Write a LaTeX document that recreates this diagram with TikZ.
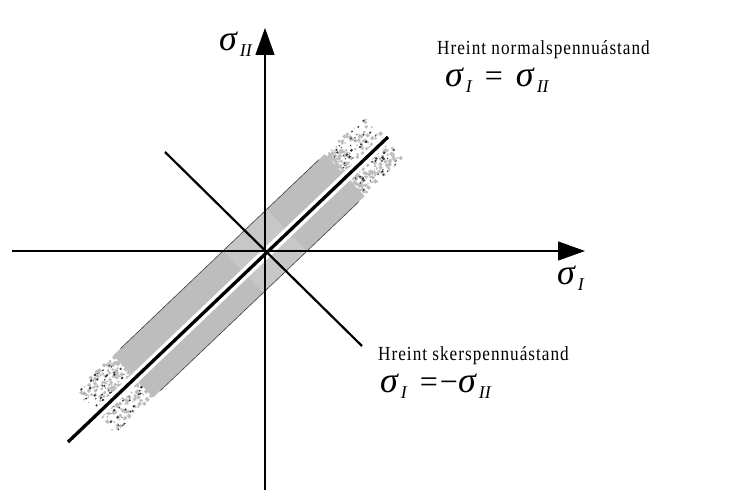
\documentclass[tikz,border=0pt]{standalone}
\usepackage{fontspec}
\setmainfont{Liberation Serif}
\newfontfamily\lblfont[LetterSpace=5,FakeStretch=0.86]{Liberation Serif}
\usetikzlibrary{arrows.meta}
\newcommand{\sgm}[1]{{\fontsize{36}{36}\selectfont\itshape σ}\kern3pt\raisebox{-6pt}{\fontsize{18}{18}\selectfont\itshape #1}}
\newcommand{\eqsign}{{\fontsize{32}{32}\selectfont=}}
\definecolor{bandgray}{gray}{0.74}
\definecolor{bandlight}{gray}{0.78}
\tikzset{
  axisline/.style={line width=1.3pt,-{Triangle[length=27pt,width=19pt]}},
  antiline/.style={line width=2.2pt},
  mainline/.style={line width=3.3pt},
  gapline/.style={white,line width=10pt},
  lbltext/.style={anchor=base west,inner sep=0pt,font=\lblfont\fontsize{20}{20}\selectfont},
  formula/.style={anchor=base west,inner sep=0pt,text height=16pt,text depth=9pt},
}
\begin{document}
\begin{tikzpicture}[x=1pt,y=1pt]
\useasboundingbox (0,0) rectangle (734,493);
\fill[white] (0,0) rectangle (734,493);
\coordinate (O) at (265,242);
\coordinate (vb) at (265,3);
\coordinate (vt) at (265,465);
\coordinate (hl) at (12,242);
\coordinate (hr) at (585,242);
\coordinate (dl) at (68,51);
\coordinate (du) at (388,356);
\coordinate (al) at (165,341);
\coordinate (ar) at (362,147);
% band
\begin{scope}[shift={(265,242)},rotate=43.6]
  \fill[bandgray] (-182,-29) rectangle (110,29);
  \fill[bandlight] (-30,-29) rectangle (30,29);
  \pgfmathsetseed{7}
  \foreach \i in {1,...,260}{
    \pgfmathsetmacro{\uu}{108+55*pow(rnd,1.4)}
    \pgfmathsetmacro{\vv}{-29+56*rnd}
    \pgfmathsetmacro{\ss}{1+2.5*rnd}
    \fill[bandgray] (\uu,\vv) rectangle ++(\ss,\ss);
  }
  \foreach \i in {1,...,260}{
    \pgfmathsetmacro{\uu}{-180-55*pow(rnd,1.4)}
    \pgfmathsetmacro{\vv}{-29+56*rnd}
    \pgfmathsetmacro{\ss}{1+2.5*rnd}
    \fill[bandgray] (\uu,\vv) rectangle ++(\ss,\ss);
  }
  \foreach \i in {1,...,70}{
    \pgfmathsetmacro{\uu}{112+50*rnd}
    \pgfmathsetmacro{\vv}{-29+56*rnd}
    \pgfmathsetmacro{\ss}{0.8+1.6*rnd}
    \fill[black!80] (\uu,\vv) rectangle ++(\ss,0.8*\ss);
  }
  \foreach \i in {1,...,70}{
    \pgfmathsetmacro{\uu}{-184-50*rnd}
    \pgfmathsetmacro{\vv}{-29+56*rnd}
    \pgfmathsetmacro{\ss}{0.8+1.6*rnd}
    \fill[black!80] (\uu,\vv) rectangle ++(\ss,0.8*\ss);
  }
  \draw[line width=0.6pt,black!75] (-172,29) -- (102,29);
  \draw[line width=0.6pt,black!75] (-172,-29) -- (102,-29);
\end{scope}
\draw[gapline] (dl) -- (du);
% axes
\draw[axisline] (vb) -- (vt);
\draw[axisline] (hl) -- (hr);
\draw[antiline] (al) -- (ar);
\draw[mainline] (dl) -- (du);
% labels
\node[formula] (s2) at (219,442) {\sgm{II}};
\node[formula] (s1) at (557,208) {\sgm{I}};
\node[lbltext] (t1) at (437,438) {Hreint normalspennuástand};
\node[formula] (f1) at (445,406) {\sgm{I}\hspace{13pt}\eqsign\hspace{13pt}\sgm{II}};
\node[lbltext] (t2) at (378,132) {Hreint skerspennuástand};
\node[formula] (f2) at (380,100) {\sgm{I}\hspace{13pt}\eqsign\kern2pt{\fontsize{32}{32}\selectfont−}\sgm{II}};
\end{tikzpicture}
\end{document}
